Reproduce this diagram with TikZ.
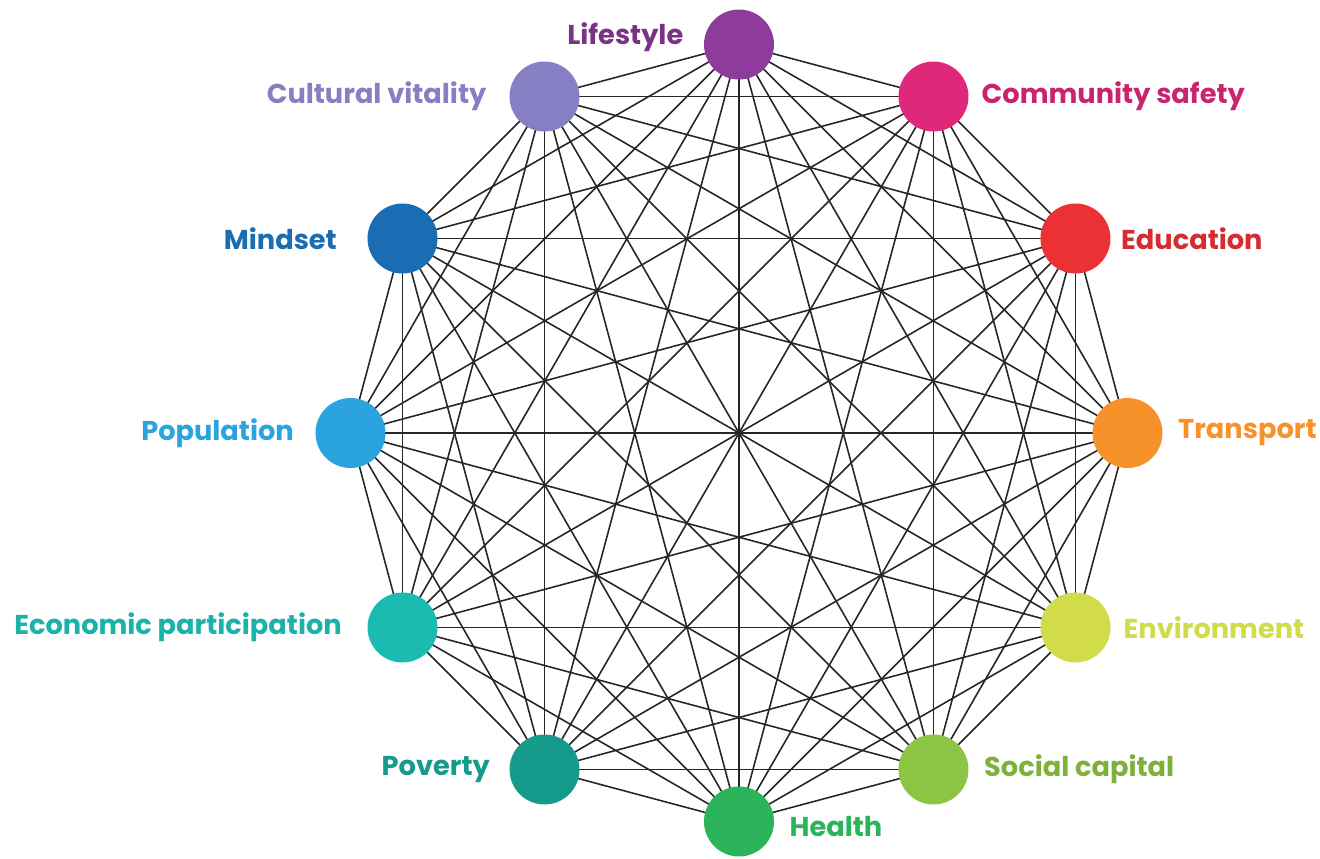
\documentclass[tikz,border=0pt]{standalone}
\usepackage{fontspec}
\setmainfont{Poppins}
\usetikzlibrary{positioning}

\definecolor{clife}{HTML}{8E3C9C}
\definecolor{csafe}{HTML}{E0287A}
\definecolor{cedu}{HTML}{EC3134}
\definecolor{ctrans}{HTML}{F7922A}
\definecolor{cenv}{HTML}{D2DB4A}
\definecolor{csoc}{HTML}{8CC443}
\definecolor{cheal}{HTML}{2BB459}
\definecolor{cpov}{HTML}{169A8B}
\definecolor{cecon}{HTML}{1CBBB1}
\definecolor{cpop}{HTML}{2AA3DF}
\definecolor{cmind}{HTML}{1B6DB3}
\definecolor{ccult}{HTML}{877FC3}

\tikzset{
  factor/.style={circle, fill=#1, minimum size=1.4cm, inner sep=0pt},
  tag/.style={text=#1, font=\bfseries\fontsize{15.5}{17}\selectfont, inner sep=0pt},
  link/.style={line width=0.9pt, black!85}
}

\begin{document}
\begin{tikzpicture}
  \useasboundingbox (-14.78,-8.5) rectangle (11.62,8.66);

  % Define vertex positions
  \coordinate (0) at (0,7.77);
  \coordinate (1) at (3.89,6.73);
  \coordinate (2) at (6.73,3.89);
  \coordinate (3) at (7.77,0);
  \coordinate (4) at (6.73,-3.89);
  \coordinate (5) at (3.89,-6.73);
  \coordinate (6) at (0,-7.77);
  \coordinate (7) at (-3.89,-6.73);
  \coordinate (8) at (-6.73,-3.89);
  \coordinate (9) at (-7.77,0);
  \coordinate (10) at (-6.73,3.89);
  \coordinate (11) at (-3.89,6.73);

  % Draw edges (every pair is linked)
  \foreach \i in {0,...,10} {
    \pgfmathtruncatemacro{\next}{\i+1}
    \foreach \j in {\next,...,11} {
      \draw[link] (\i) -- (\j);
    }
  }

  % Draw vertices on top
  \foreach \i/\c in {0/clife,1/csafe,2/cedu,3/ctrans,4/cenv,5/csoc,6/cheal,7/cpov,8/cecon,9/cpop,10/cmind,11/ccult}
    \node[factor=\c] (v\i) at (\i) {};

  % Add factor labels
  \node[tag=clife!85!black, left=0.4cm of v0, yshift=0.15cm] (t0) {Lifestyle};
  \node[tag=csafe!90!black, right=0.25cm of v1] (t1) {Community safety};
  \node[tag=cedu!90!black, right=0.2cm of v2] (t2) {Education};
  \node[tag=ctrans, right=0.3cm of v3] (t3) {Transport};
  \node[tag=cenv, right=0.25cm of v4] (t4) {Environment};
  \node[tag=csoc!90!black, right=0.3cm of v5] (t5) {Social capital};
  \node[tag=cheal, right=0.3cm of v6, yshift=-0.1cm] (t6) {Health};
  \node[tag=cpov, left=0.38cm of v7] (t7) {Poverty};
  \node[tag=cecon!95!black, left=0.5cm of v8] (t8) {Economic participation};
  \node[tag=cpop, left=0.42cm of v9] (t9) {Population};
  \node[tag=cmind, left=0.6cm of v10] (t10) {Mindset};
  \node[tag=ccult, left=0.45cm of v11] (t11) {Cultural vitality};
\end{tikzpicture}
\end{document}
